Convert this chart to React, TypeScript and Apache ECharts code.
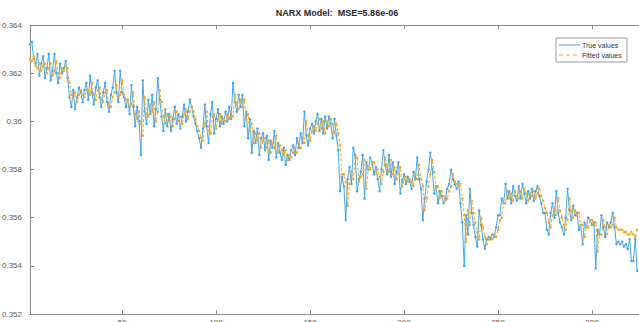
import React, { useEffect, useRef } from "react";
import * as echarts from "echarts";

const titleText = "NARX Model:  MSE=5.86e-06";
const seriesNames = ["True values", "Fitted values"];
const xStart = 1;
const xMin = 1;
const xMax = 325;
const xTickValues = [50, 100, 150, 200, 250, 300];
const yMin = 0.352;
const yMax = 0.364;
const yStep = 0.002;

const trueValues = [
  0.3632, 0.3633, 0.3626, 0.3624, 0.3628, 0.3619, 0.3624, 0.3627, 0.3618, 0.3622,
  0.3628, 0.3617, 0.3621, 0.3628, 0.3620, 0.3616, 0.3624, 0.3620, 0.3622, 0.3625,
  0.3618, 0.3610, 0.3606, 0.3613, 0.3605, 0.3610, 0.3614, 0.3612, 0.3608, 0.3613,
  0.3616, 0.3609, 0.3619, 0.3612, 0.3607, 0.3614, 0.3617, 0.3610, 0.3606, 0.3612,
  0.3616, 0.3608, 0.3604, 0.3611, 0.3614, 0.3621, 0.3612, 0.3608, 0.3621, 0.3612,
  0.3610, 0.3606, 0.3609, 0.3603, 0.3615, 0.3606, 0.3598, 0.3606, 0.3600, 0.3586,
  0.3617, 0.3604, 0.3599, 0.3609, 0.3603, 0.3611, 0.3598, 0.3605, 0.3618, 0.3609,
  0.3602, 0.3596, 0.3605, 0.3598, 0.3603, 0.3596, 0.3601, 0.3606, 0.3599, 0.3603,
  0.3597, 0.3602, 0.3607, 0.3600, 0.3604, 0.3609, 0.3606, 0.3602, 0.3599, 0.3596,
  0.3593, 0.3589, 0.3597, 0.3607, 0.3598, 0.3591, 0.3603, 0.3608, 0.3595, 0.3601,
  0.3605, 0.3598, 0.3602, 0.3599, 0.3604, 0.3600, 0.3606, 0.3601, 0.3616, 0.3608,
  0.3604, 0.3611, 0.3606, 0.3611, 0.3598, 0.3604, 0.3593, 0.3601, 0.3587, 0.3596,
  0.3591, 0.3597, 0.3586, 0.3593, 0.3595, 0.3588, 0.3594, 0.3584, 0.3592, 0.3589,
  0.3596, 0.3585, 0.3591, 0.3587, 0.3584, 0.3589, 0.3582, 0.3586, 0.3584, 0.3588,
  0.3590, 0.3586, 0.3593, 0.3589, 0.3595, 0.3591, 0.3604, 0.3594, 0.3590, 0.3597,
  0.3599, 0.3595, 0.3600, 0.3603, 0.3596, 0.3601, 0.3595, 0.3602, 0.3597, 0.3602,
  0.3599, 0.3593, 0.3601, 0.3594, 0.3588, 0.3571, 0.3577, 0.3573, 0.3559, 0.3576,
  0.3581, 0.3574, 0.3589, 0.3586, 0.3571, 0.3576, 0.3579, 0.3586, 0.3568, 0.3583,
  0.3580, 0.3585, 0.3583, 0.3578, 0.3581, 0.3576, 0.3571, 0.3580, 0.3588, 0.3582,
  0.3578, 0.3586, 0.3577, 0.3583, 0.3574, 0.3579, 0.3583, 0.3570, 0.3575, 0.3578,
  0.3574, 0.3577, 0.3575, 0.3572, 0.3579, 0.3576, 0.3585, 0.3576, 0.3572, 0.3559,
  0.3568, 0.3575, 0.3580, 0.3587, 0.3580, 0.3570, 0.3573, 0.3566, 0.3571, 0.3569,
  0.3566, 0.3568, 0.3572, 0.3574, 0.3580, 0.3576, 0.3574, 0.3572, 0.3575, 0.3566,
  0.3558, 0.3540, 0.3561, 0.3553, 0.3572, 0.3562, 0.3557, 0.3552, 0.3548, 0.3563,
  0.3557, 0.3551, 0.3547, 0.3551, 0.3552, 0.3551, 0.3553, 0.3552, 0.3556, 0.3561,
  0.3561, 0.3568, 0.3566, 0.3574, 0.3568, 0.3571, 0.3566, 0.3573, 0.3569, 0.3567,
  0.3573, 0.3568, 0.3574, 0.3570, 0.3566, 0.3571, 0.3568, 0.3572, 0.3567, 0.3571,
  0.3573, 0.3569, 0.3566, 0.3562, 0.3562, 0.3555, 0.3553, 0.3562, 0.3566, 0.3560,
  0.3571, 0.3562, 0.3558, 0.3556, 0.3553, 0.3560, 0.3572, 0.3563, 0.3559, 0.3565,
  0.3561, 0.3562, 0.3555, 0.3557, 0.3549, 0.3558, 0.3556, 0.3560, 0.3559, 0.3557,
  0.3558, 0.3539, 0.3555, 0.3553, 0.3561, 0.3556, 0.3552, 0.3558, 0.3556, 0.3558,
  0.3562, 0.3556, 0.3549, 0.3550, 0.3549, 0.3550, 0.3548, 0.3549, 0.3547, 0.3551,
  0.3542, 0.3542, 0.3551, 0.3538,
];

const fittedValues = [
  0.3626, 0.3625, 0.3627, 0.3623, 0.3622, 0.3624, 0.3621, 0.3623, 0.3624, 0.3620,
  0.3622, 0.3624, 0.3619, 0.3621, 0.3625, 0.3620, 0.3618, 0.3622, 0.3621, 0.3623,
  0.3622, 0.3616, 0.3611, 0.3610, 0.3612, 0.3608, 0.3611, 0.3613, 0.3611, 0.3610,
  0.3613, 0.3613, 0.3611, 0.3616, 0.3611, 0.3609, 0.3613, 0.3614, 0.3609, 0.3608,
  0.3612, 0.3613, 0.3607, 0.3606, 0.3610, 0.3612, 0.3615, 0.3610, 0.3611, 0.3617,
  0.3611, 0.3609, 0.3609, 0.3606, 0.3607, 0.3612, 0.3603, 0.3601, 0.3604, 0.3599,
  0.3594, 0.3610, 0.3603, 0.3602, 0.3607, 0.3604, 0.3608, 0.3600, 0.3604, 0.3613,
  0.3608, 0.3602, 0.3599, 0.3603, 0.3600, 0.3602, 0.3598, 0.3601, 0.3604, 0.3600,
  0.3602, 0.3599, 0.3603, 0.3605, 0.3601, 0.3604, 0.3606, 0.3604, 0.3601, 0.3598,
  0.3596, 0.3593, 0.3592, 0.3599, 0.3604, 0.3596, 0.3595, 0.3602, 0.3603, 0.3597,
  0.3601, 0.3603, 0.3599, 0.3601, 0.3600, 0.3603, 0.3601, 0.3604, 0.3602, 0.3611,
  0.3607, 0.3605, 0.3609, 0.3606, 0.3609, 0.3601, 0.3603, 0.3596, 0.3599, 0.3591,
  0.3595, 0.3592, 0.3595, 0.3589, 0.3592, 0.3593, 0.3589, 0.3592, 0.3587, 0.3591,
  0.3589, 0.3594, 0.3587, 0.3590, 0.3588, 0.3586, 0.3588, 0.3584, 0.3586, 0.3585,
  0.3587, 0.3589, 0.3587, 0.3591, 0.3589, 0.3593, 0.3591, 0.3600, 0.3594, 0.3592,
  0.3596, 0.3598, 0.3596, 0.3599, 0.3601, 0.3597, 0.3600, 0.3595, 0.3600, 0.3598,
  0.3601, 0.3599, 0.3595, 0.3599, 0.3595, 0.3590, 0.3578, 0.3578, 0.3575, 0.3565,
  0.3574, 0.3579, 0.3576, 0.3585, 0.3585, 0.3575, 0.3577, 0.3578, 0.3584, 0.3572,
  0.3581, 0.3580, 0.3583, 0.3583, 0.3579, 0.3580, 0.3577, 0.3574, 0.3579, 0.3585,
  0.3581, 0.3579, 0.3584, 0.3578, 0.3581, 0.3576, 0.3578, 0.3581, 0.3573, 0.3576,
  0.3577, 0.3575, 0.3576, 0.3575, 0.3573, 0.3578, 0.3576, 0.3582, 0.3576, 0.3573,
  0.3563, 0.3568, 0.3573, 0.3578, 0.3584, 0.3579, 0.3572, 0.3573, 0.3568, 0.3571,
  0.3569, 0.3567, 0.3568, 0.3571, 0.3573, 0.3578, 0.3575, 0.3574, 0.3573, 0.3574,
  0.3568, 0.3561, 0.3550, 0.3563, 0.3557, 0.3567, 0.3562, 0.3558, 0.3554, 0.3551,
  0.3560, 0.3556, 0.3552, 0.3549, 0.3551, 0.3552, 0.3551, 0.3553, 0.3552, 0.3555,
  0.3559, 0.3560, 0.3566, 0.3566, 0.3571, 0.3568, 0.3570, 0.3567, 0.3571, 0.3569,
  0.3568, 0.3571, 0.3568, 0.3572, 0.3570, 0.3567, 0.3570, 0.3569, 0.3571, 0.3568,
  0.3570, 0.3572, 0.3569, 0.3567, 0.3564, 0.3562, 0.3558, 0.3556, 0.3561, 0.3564,
  0.3561, 0.3568, 0.3563, 0.3560, 0.3557, 0.3555, 0.3559, 0.3568, 0.3563, 0.3560,
  0.3563, 0.3561, 0.3562, 0.3557, 0.3557, 0.3552, 0.3556, 0.3556, 0.3559, 0.3559,
  0.3557, 0.3558, 0.3546, 0.3553, 0.3553, 0.3559, 0.3556, 0.3553, 0.3557, 0.3556,
  0.3557, 0.3560, 0.3556, 0.3555, 0.3555, 0.3555, 0.3554, 0.3554, 0.3553, 0.3553,
  0.3554, 0.3553, 0.3552, 0.3555,
];

const BLUE = "#3fa6ee";
const ORANGE = "#eda92c";
const AXIS = "#8a8a8a";
const LABEL = "#5c5c5c";
const FONT = "Liberation Sans, Arial, sans-serif";

export default function App() {
  const ref = useRef<HTMLDivElement>(null);

  useEffect(() => {
    document.body.style.margin = "0";
    if (!ref.current) return;
    const chart = echarts.init(ref.current, undefined, { renderer: "svg" });

    const trueData = trueValues.map((v, k) => [xStart + k, v]);
    const fittedData = fittedValues.map((v, k) => [xStart + k, v]);

    const xCommon = {
      type: "value" as const,
      min: xMin,
      max: xMax,
      splitLine: { show: false },
      axisLine: { show: true, lineStyle: { color: AXIS, width: 1 } },
      axisTick: {
        show: true,
        inside: true,
        length: 4,
        customValues: xTickValues,
        lineStyle: { color: AXIS },
      },
    };

    chart.setOption({
      animation: false,
      backgroundColor: "#ffffff",
      grid: {
        left: 30,
        right: 0,
        top: 25,
        bottom: 8,
        containLabel: false,
        outerBoundsMode: "none",
      },
      xAxis: [
        {
          ...xCommon,
          position: "bottom",
          axisLabel: {
            show: true,
            customValues: xTickValues,
            margin: 4,
            fontSize: 8,
            color: LABEL,
            fontFamily: FONT,
          },
        },
        {
          ...xCommon,
          position: "top",
          axisLabel: { show: false },
        },
      ],
      yAxis: {
        type: "value",
        min: yMin,
        max: yMax,
        interval: yStep,
        splitLine: { show: false },
        axisLine: { show: true, lineStyle: { color: AXIS, width: 1 } },
        axisTick: { show: true, inside: true, length: 4, lineStyle: { color: AXIS } },
        axisLabel: {
          margin: 8,
          fontSize: 8,
          color: LABEL,
          fontFamily: FONT,
          formatter: (v: number) => String(+v.toFixed(3)),
        },
      },
      series: [
        {
          name: seriesNames[0],
          type: "line",
          xAxisIndex: 0,
          data: trueData,
          symbol: "circle",
          symbolSize: 2.5,
          showSymbol: true,
          itemStyle: { color: BLUE },
          lineStyle: { color: BLUE, width: 1 },
          z: 2,
        },
        {
          name: seriesNames[1],
          type: "line",
          xAxisIndex: 0,
          data: fittedData,
          symbol: "circle",
          symbolSize: 2.5,
          showSymbol: true,
          itemStyle: { color: ORANGE },
          lineStyle: { color: ORANGE, width: 1, type: [3, 2] },
          z: 3,
        },
      ],
      graphic: [
        {
          type: "text",
          left: undefined,
          x: 337,
          y: 13,
          style: {
            text: titleText,
            fontSize: 9,
            fontWeight: "bold",
            fontFamily: FONT,
            fill: "#262626",
            textAlign: "center",
            textVerticalAlign: "middle",
          },
        },
        {
          type: "rect",
          shape: { x: 556, y: 38, width: 71, height: 24 },
          style: { fill: "#ffffff", stroke: "#9a9a9a", lineWidth: 1 },
          z: 10,
        },
        {
          type: "line",
          shape: { x1: 559, y1: 45, x2: 580, y2: 45 },
          style: { stroke: BLUE, lineWidth: 1 },
          z: 11,
        },
        {
          type: "line",
          shape: { x1: 559, y1: 55, x2: 580, y2: 55 },
          style: { stroke: ORANGE, lineWidth: 1, lineDash: [4, 3] },
          z: 11,
        },
        {
          type: "text",
          x: 582,
          y: 45,
          style: {
            text: seriesNames[0],
            fontSize: 7,
            fontFamily: FONT,
            fill: "#333333",
            textVerticalAlign: "middle",
          },
          z: 11,
        },
        {
          type: "text",
          x: 582,
          y: 55,
          style: {
            text: seriesNames[1],
            fontSize: 7,
            fontFamily: FONT,
            fill: "#333333",
            textVerticalAlign: "middle",
          },
          z: 11,
        },
      ],
    });

    return () => chart.dispose();
  }, []);

  return <div ref={ref} style={{ width: 639, height: 322 }} />;
}
